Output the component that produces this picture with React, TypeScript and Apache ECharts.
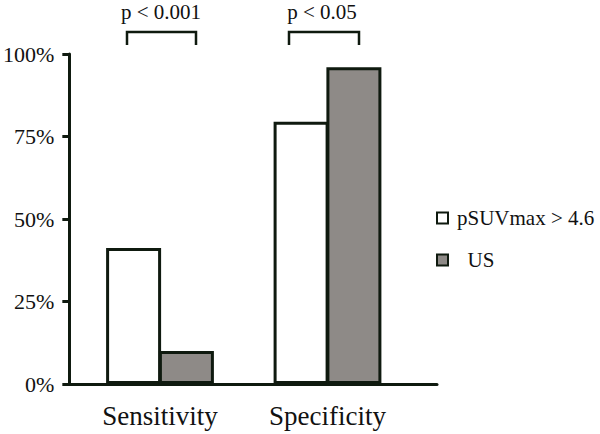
import React, { useEffect, useRef } from "react";
import * as echarts from "echarts";

const categories = ["Sensitivity", "Specificity"];
const seriesNames = ["pSUVmax > 4.6", "US"];
const psuvValues = [41.2, 79.5];
const usValues = [10, 96];
const yTicks = [0, 25, 50, 75, 100];
const pLabels = ["p < 0.001", "p < 0.05"];

const FONT = "Liberation Serif";
const INK = "#0f1a0f";
const GRAY = "#8e8a87";

export default function App() {
  const ref = useRef<HTMLDivElement>(null);
  useEffect(() => {
    if (!ref.current) return;
    const chart = echarts.init(ref.current, undefined, { renderer: "svg" });
    const bracket = (x1: number, x2: number, yTop: number, yBot: number) => ({
      type: "polyline",
      shape: { points: [[x1, yBot], [x1, yTop], [x2, yTop], [x2, yBot]] },
      style: { stroke: INK, lineWidth: 2.5, fill: "none" },
    });
    const pText = (x: number, text: string) => ({
      type: "text",
      x,
      y: 12,
      style: {
        text,
        font: "21px " + FONT,
        fill: "#111",
        align: "center",
        verticalAlign: "middle",
      },
    });
    chart.setOption({
      animation: false,
      backgroundColor: "#ffffff",
      grid: [
        { left: 65, right: 163, top: 54, bottom: 50 },
        { left: 76.25, width: 335, top: 54, bottom: 50 },
      ],
      xAxis: [
        {
          gridIndex: 0,
          type: "category",
          data: [""],
          axisLine: { show: true, lineStyle: { color: INK, width: 3 } },
          axisTick: { show: false },
          axisLabel: { show: false },
        },
        {
          gridIndex: 1,
          type: "category",
          data: categories,
          axisLine: { show: false },
          axisTick: { show: false },
          axisLabel: {
            color: "#111",
            fontFamily: FONT,
            fontSize: 27,
            margin: 18,
          },
        },
      ],
      yAxis: [
        {
          gridIndex: 0,
          type: "value",
          min: yTicks[0],
          max: yTicks[yTicks.length - 1],
          interval: yTicks[1] - yTicks[0],
          axisLine: { show: true, lineStyle: { color: INK, width: 3 } },
          axisTick: { show: true, inside: false, length: 7, lineStyle: { color: INK, width: 3 } },
          axisLabel: {
            formatter: "{value}%",
            color: "#111",
            fontFamily: FONT,
            fontSize: 22,
            margin: 15,
          },
          splitLine: { show: false },
        },
        {
          gridIndex: 1,
          type: "value",
          min: yTicks[0],
          max: yTicks[yTicks.length - 1],
          show: false,
          splitLine: { show: false },
        },
      ],
      legend: {
        orient: "vertical",
        left: 431,
        top: 202,
        icon: "rect",
        itemWidth: 11,
        itemHeight: 11,
        itemGap: 20,
        itemStyle: { borderWidth: 2, borderColor: INK },
        formatter: (name: string) => (name === "US" ? "  " + name : name),
        textStyle: {
          fontFamily: FONT,
          fontSize: 21,
          color: "#111",
          lineHeight: 22,
          padding: [0, 0, 0, 4],
        },
        data: seriesNames,
      },
      series: [
        {
          name: seriesNames[0],
          type: "bar",
          xAxisIndex: 1,
          yAxisIndex: 1,
          data: psuvValues,
          barWidth: 55,
          barGap: "-4%",
          itemStyle: { color: "#ffffff", borderColor: INK, borderWidth: 3 },
        },
        {
          name: seriesNames[1],
          type: "bar",
          xAxisIndex: 1,
          yAxisIndex: 1,
          data: usValues,
          barWidth: 55,
          barGap: "-4%",
          itemStyle: { color: GRAY, borderColor: INK, borderWidth: 3 },
        },
      ],
      graphic: [
        bracket(127, 196, 32, 45),
        bracket(289, 359, 32, 45),
        pText(161, pLabels[0]),
        pText(322, pLabels[1]),
      ],
    });
    return () => chart.dispose();
  }, []);
  return (
    <div
      ref={ref}
      style={{ position: "fixed", left: 0, top: 0, width: 600, height: 434, background: "#fff" }}
    />
  );
}
